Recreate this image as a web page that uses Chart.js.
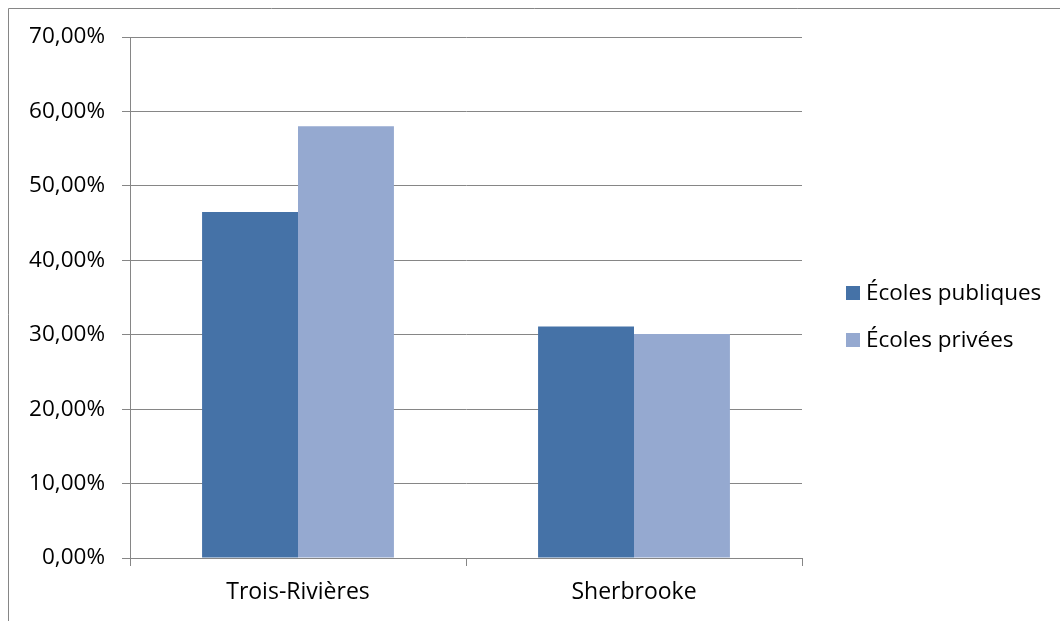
<!DOCTYPE html>
<html>
<head>
<meta charset="utf-8">
<script src="https://cdn.jsdelivr.net/npm/chart.js@4/dist/chart.umd.min.js"></script>
<style>
html,body{margin:0;padding:0;background:#fff;}
#wrap{width:1060px;height:621px;position:relative;}
</style>
</head>
<body>
<div id="wrap"><canvas id="c" width="1060" height="621"></canvas></div>
<script>
const categories = ["Trois-Rivières", "Sherbrooke"];
const seriesNames = ["Écoles publiques", "Écoles privées"];
const publiques = [46.5, 31.1];
const privees = [58.0, 30.1];
const yTicks = [0, 10, 20, 30, 40, 50, 60, 70];

const FONT = "'Open Sans', 'Liberation Sans', sans-serif";
const GRID = '#868686';

const framePlugin = {
  id: 'frame',
  beforeDraw(chart) {
    const ctx = chart.ctx;
    ctx.save();
    ctx.strokeStyle = GRID;
    ctx.lineWidth = 1;
    ctx.beginPath();
    ctx.moveTo(8.5, 621);
    ctx.lineTo(8.5, 8.5);
    ctx.lineTo(1060, 8.5);
    ctx.stroke();
    ctx.restore();
  }
};

const legendPlugin = {
  id: 'sideLegend',
  afterDraw(chart) {
    const ctx = chart.ctx;
    ctx.save();
    ctx.font = '22.5px ' + FONT;
    ctx.textBaseline = 'middle';
    ctx.textAlign = 'left';
    chart.data.datasets.forEach((ds, i) => {
      const cy = 293 + i * 47;
      ctx.fillStyle = ds.backgroundColor;
      ctx.fillRect(846, cy - 7, 14, 14);
      ctx.fillStyle = '#000';
      ctx.fillText(ds.label, 866, cy + 1);
    });
    ctx.restore();
  }
};

new Chart(document.getElementById('c'), {
  type: 'bar',
  data: {
    labels: categories,
    datasets: [
      { label: seriesNames[0], data: publiques, backgroundColor: '#4572A7' },
      { label: seriesNames[1], data: privees, backgroundColor: '#95A9D0' }
    ]
  },
  options: {
    responsive: false,
    animation: false,
    devicePixelRatio: 1,
    layout: { padding: { left: 0, top: 37, right: 258, bottom: 0 } },
    datasets: { bar: { categoryPercentage: 0.571, barPercentage: 1.0, borderWidth: 0 } },
    plugins: { legend: { display: false }, tooltip: { enabled: false } },
    scales: {
      x: {
        offset: true,
        grid: { display: true, drawOnChartArea: false, offset: true, color: GRID, tickLength: 8, lineWidth: 1 },
        border: { display: true, color: GRID, width: 1 },
        ticks: { color: '#000', font: { family: FONT, size: 23 }, padding: 13, maxRotation: 0 },
        afterFit(scale) { scale.height = 63; }
      },
      y: {
        min: 0, max: 70,
        afterBuildTicks(scale) { scale.ticks = yTicks.map(v => ({ value: v })); },
        grid: { color: GRID, tickLength: 8, lineWidth: 1 },
        border: { display: true, color: GRID, width: 1 },
        ticks: {
          color: '#000', font: { family: FONT, size: 22.5 }, padding: 17,
          callback: v => v.toFixed(2).replace('.', ',') + '%'
        },
        afterFit(scale) { scale.width = 130; }
      }
    }
  },
  plugins: [framePlugin, legendPlugin]
});
</script>
</body>
</html>
